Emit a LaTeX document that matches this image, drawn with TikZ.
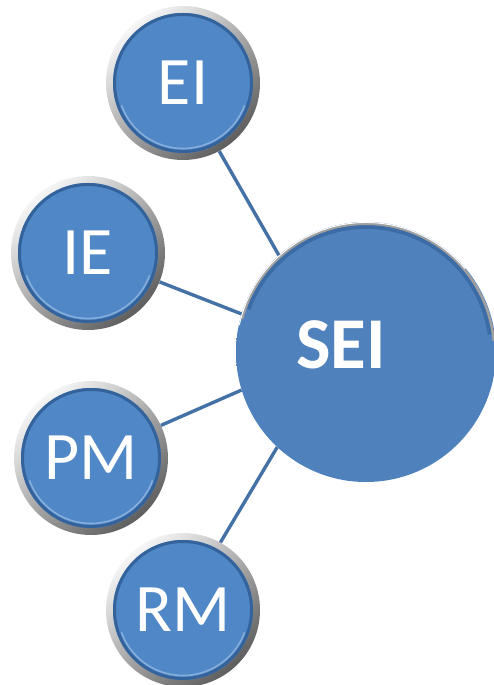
\documentclass[tikz,border=0pt]{standalone}
\usepackage{fontspec}
\setmainfont{Carlito}
\definecolor{ballblue}{HTML}{5087C6}
\definecolor{balledge}{HTML}{34639C}
\definecolor{ballhi}{HTML}{86AEDD}
\definecolor{seiblue}{HTML}{4F81BD}
\definecolor{seilight}{HTML}{5A8CCA}
\definecolor{rimlight}{HTML}{F6F6F6}
\definecolor{rimdark}{HTML}{5E5E5E}
\definecolor{linkblue}{HTML}{4471A6}
% soft highlight on the upper part of the large disc
\pgfdeclareverticalshading{seicap}{100bp}{color(0bp)=(seiblue); color(72bp)=(seiblue);
  color(88bp)=(seilight); color(100bp)=(seilight)}
\begin{document}
\begin{tikzpicture}[x=1pt,y=1pt,
  smallball/.style={circle, minimum size=154pt, inner sep=0pt,
    top color=rimlight, bottom color=rimdark, shading angle=40,
    text=white, font=\fontsize{68}{68}\selectfont,
    path picture={
      \fill[ballblue] (path picture bounding box.center) circle (70pt);
      \draw[balledge, line width=3pt] (path picture bounding box.center) circle (68.5pt);
      \draw[ballhi, line width=1.6pt]
        ([shift={(-160:65.5pt)}]path picture bounding box.center)
        arc[start angle=-160, end angle=-20, radius=65.5pt];
    }},
  bigball/.style={circle, minimum size=260pt, inner sep=0pt, shading=seicap,
    path picture={
      \draw[balledge!70!seiblue, line width=4pt]
        ([shift={(160:125pt)}]path picture bounding box.center)
        arc[start angle=160, end angle=8, radius=125pt];
      \draw[gray!75, line width=2.5pt]
        ([shift={(165:128.2pt)}]path picture bounding box.center)
        arc[start angle=165, end angle=5, radius=128.2pt];
      \draw[white, line width=1.2pt]
        ([shift={(168:129.6pt)}]path picture bounding box.center)
        arc[start angle=168, end angle=40, radius=129.6pt];
    }},
  bigtext/.style={text=white, font=\fontsize{73}{73}\selectfont\bfseries, inner sep=0pt},
  link/.style={draw=linkblue, line width=3.4pt}
]
\useasboundingbox (0,0) rectangle (493,685);

% centre and satellites
\node[bigball] (SEI) at (366,333) {};
\node[bigtext] (SEItext) at ([shift={(-25pt,7pt)}]SEI.center) {SEI};

\node[smallball] (EI) at (183,602) {EI};
\node[smallball] (IE) at (88,432) {IE};
\node[smallball] (PM) at (91,227) {PM};
\node[smallball] (RM) at (183,75) {RM};

% spokes
\draw[link] (EI.-62) -- (SEI.132);
\draw[link] (IE.-22) -- (SEI.163);
\draw[link] (PM.25) -- (SEI.197);
\draw[link] (RM.61) -- (SEI.227);
\end{tikzpicture}
\end{document}
